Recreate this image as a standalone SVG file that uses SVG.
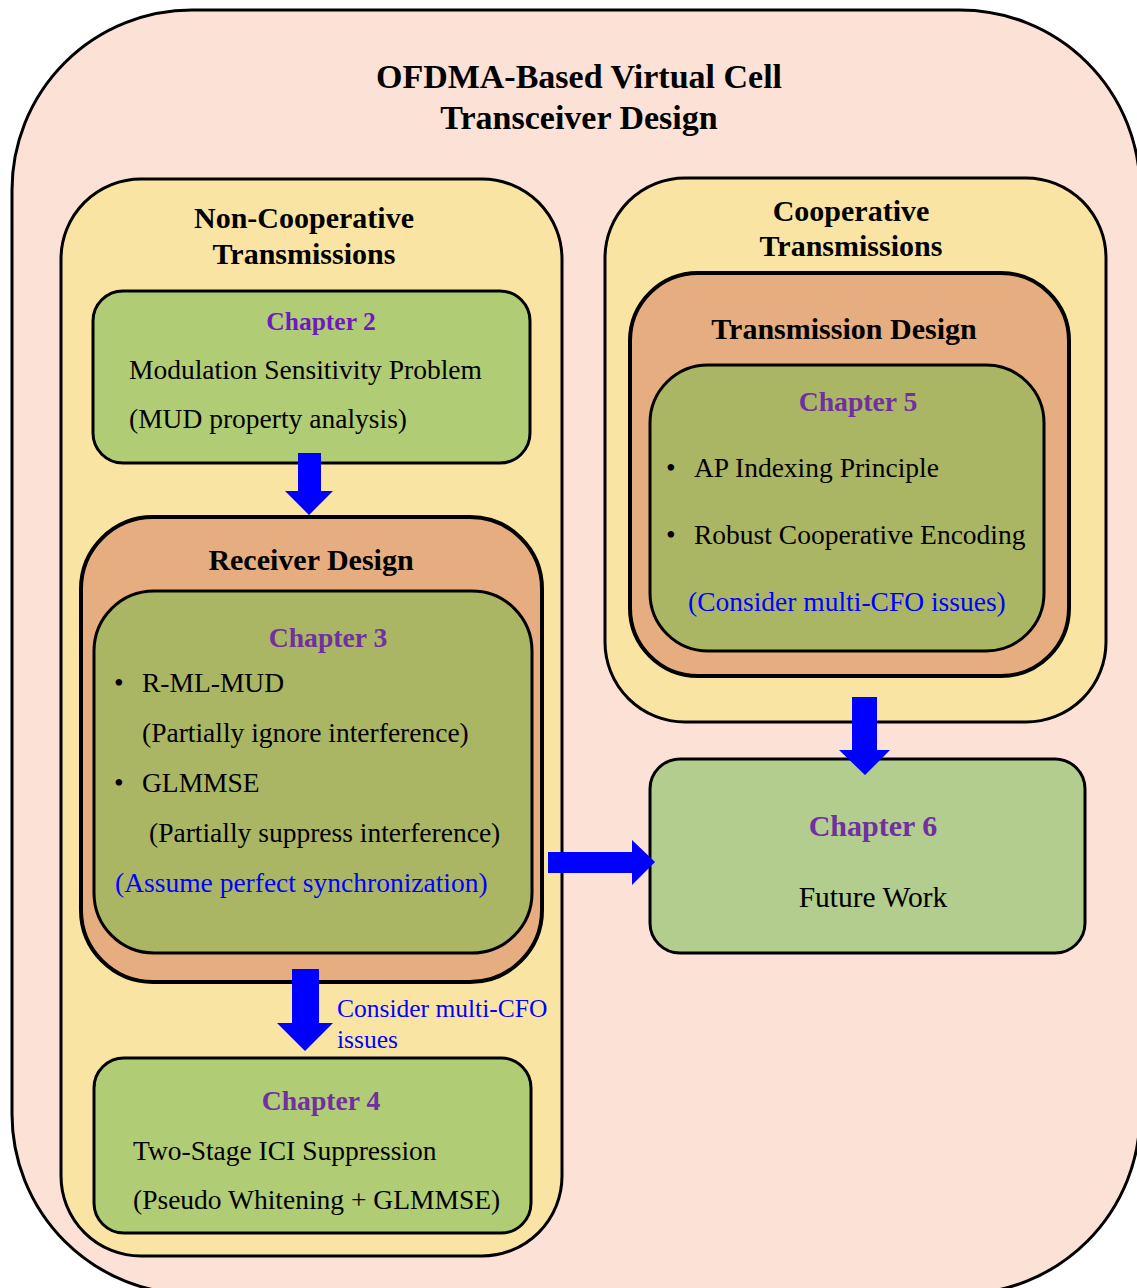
<svg xmlns="http://www.w3.org/2000/svg" width="1137" height="1288" viewBox="0 0 1137 1288">
  <style>
    .frame { stroke: #000; stroke-width: 3; }
    .thick { stroke: #000; stroke-width: 4; }
    .outer { fill: #FCE2D6; }
    .group { fill: #FAE4A4; }
    .design { fill: #E6AE80; }
    .light { fill: #B0CC74; }
    .olive { fill: #ABB664; }
    .pale { fill: #B2CD8D; }
    text { font-family: "Liberation Serif", "Times New Roman", serif; }
    .h1 { font-size: 34px; font-weight: bold; fill: #000; text-anchor: middle; }
    .h2 { font-size: 30px; font-weight: bold; fill: #000; text-anchor: middle; }
    .h3 { font-size: 30px; font-weight: bold; fill: #000; text-anchor: middle; }
    .ch { font-size: 27.7px; font-weight: bold; fill: #7030A0; text-anchor: middle; }
    .body { font-size: 27.5px; fill: #000; }
    .note { font-size: 27.5px; fill: #0000FF; }
    .arrow { fill: #0000FF; }
  </style>

  <!-- whole design -->
  <g id="virtual-cell">
    <rect class="outer frame" x="12" y="10" width="1128" height="1284" rx="180" ry="180"/>
    <text class="h1" x="579" y="88">OFDMA-Based Virtual Cell</text>
    <text class="h1" x="579" y="129">Transceiver Design</text>
  </g>

  <!-- left column -->
  <g id="non-cooperative">
    <rect class="group frame" x="61" y="179" width="501" height="1077" rx="80" ry="80"/>
    <text class="h2" x="304" y="228">Non-Cooperative</text>
    <text class="h2" x="304" y="264">Transmissions</text>
  </g>

  <g id="chapter2">
    <rect class="light frame" x="93" y="291" width="437" height="172" rx="30" ry="30"/>
    <text class="ch" x="321" y="330" style="font-size:25.5px;fill:#7019C0">Chapter 2</text>
    <text class="body" x="129" y="379">Modulation Sensitivity Problem</text>
    <text class="body" x="129" y="428">(MUD property analysis)</text>
  </g>

  <g id="receiver-design">
    <rect class="design thick" x="81" y="517" width="461" height="465" rx="72" ry="72"/>
    <text class="h3" x="311" y="570">Receiver Design</text>
  </g>

  <g id="chapter3">
    <rect class="olive frame" x="94" y="591" width="438" height="362" rx="60" ry="60"/>
    <text class="ch" x="328" y="647">Chapter 3</text>
    <text class="body" x="114" y="692">•</text>
    <text class="body" x="142" y="692">R-ML-MUD</text>
    <text class="body" x="142" y="742">(Partially ignore interference)</text>
    <text class="body" x="114" y="792">•</text>
    <text class="body" x="142" y="792">GLMMSE</text>
    <text class="body" x="149" y="842">(Partially suppress interference)</text>
    <text class="note" x="115" y="892">(Assume perfect synchronization)</text>
  </g>

  <g id="chapter4">
    <rect class="light frame" x="94" y="1058" width="437" height="175" rx="30" ry="30"/>
    <text class="ch" x="321" y="1110">Chapter 4</text>
    <text class="body" x="133" y="1160">Two-Stage ICI Suppression</text>
    <text class="body" x="133" y="1209">(Pseudo Whitening + GLMMSE)</text>
  </g>

  <!-- right column -->
  <g id="cooperative">
    <rect class="group frame" x="605" y="178" width="501" height="544" rx="80" ry="80"/>
    <text class="h3" x="851" y="221">Cooperative</text>
    <text class="h3" x="851" y="256">Transmissions</text>
  </g>

  <g id="transmission-design">
    <rect class="design thick" x="630" y="273" width="439" height="403" rx="68" ry="68"/>
    <text class="h3" x="844" y="339">Transmission Design</text>
  </g>

  <g id="chapter5">
    <rect class="olive frame" x="650" y="365" width="394" height="286" rx="58" ry="58"/>
    <text class="ch" x="858" y="411">Chapter 5</text>
    <text class="body" x="666" y="477">•</text>
    <text class="body" x="694" y="477">AP Indexing Principle</text>
    <text class="body" x="666" y="544">•</text>
    <text class="body" x="694" y="544">Robust Cooperative Encoding</text>
    <text class="note" x="688" y="611">(Consider multi-CFO issues)</text>
  </g>

  <g id="chapter6">
    <rect class="pale frame" x="650" y="759" width="435" height="194" rx="30" ry="30"/>
    <text class="ch" x="873" y="836" style="font-size:30px">Chapter 6</text>
    <text class="body" x="873" y="907" style="text-anchor:middle;font-size:29.5px">Future Work</text>
  </g>

  <!-- block arrows between stages -->
  <g id="connectors">
    <polygon class="arrow" points="298,453 321,453 321,491 333,491 309,515 285,491 298,491"/>
    <polygon class="arrow" points="548,852 632,852 632,840 655,862 632,885 632,873 548,873"/>
    <polygon class="arrow" points="292,969 319,969 319,1023 333,1023 305,1051 277,1023 292,1023"/>
    <polygon class="arrow" points="852,697 877,697 877,750 890,750 865,775 839,750 852,750"/>
    <text class="note" x="337" y="1017" style="font-size:25.5px">Consider multi-CFO</text>
    <text class="note" x="337" y="1048" style="font-size:25.5px">issues</text>
  </g>
</svg>
